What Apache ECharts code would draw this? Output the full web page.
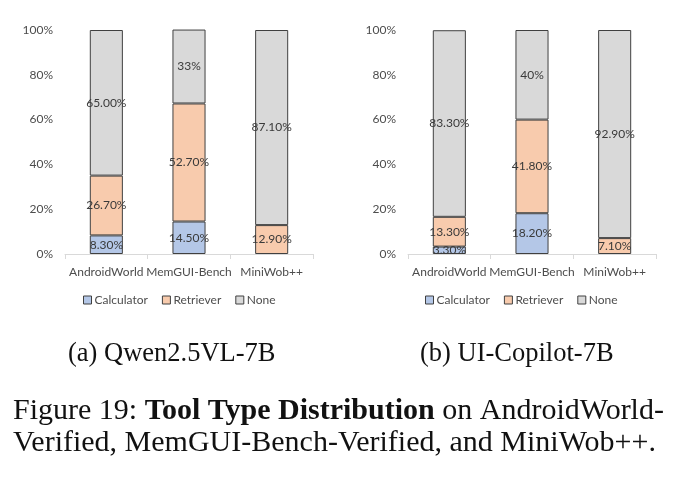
<!DOCTYPE html>
<html>
<head>
<meta charset="utf-8">
<script src="https://cdn.jsdelivr.net/npm/echarts@6/dist/echarts.min.js"></script>
<style>
	html, body { margin: 0; padding: 0; background: #fff; }
	#chart { width: 692px; height: 481px; }
</style>
</head>
<body>
<div id="chart"></div>
<script>
// data
var categories = ["AndroidWorld", "MemGUI-Bench", "MiniWob++"];
var seriesNames = ["Calculator", "Retriever", "None"];

// (a) Qwen2.5VL-7B
var qwenCalculator = [8.3, 14.5, 0];
var qwenRetriever = [26.7, 52.7, 12.9];
var qwenNone = [65.0, 33.0, 87.1];
var qwenCalculatorLabels = ["8.30%", "14.50%", ""];
var qwenRetrieverLabels = ["26.70%", "52.70%", "12.90%"];
var qwenNoneLabels = ["65.00%", "33%", "87.10%"];

// (b) UI-Copilot-7B
var copilotCalculator = [3.3, 18.2, 0];
var copilotRetriever = [13.3, 41.8, 7.1];
var copilotNone = [83.3, 40.0, 92.9];
var copilotCalculatorLabels = ["3.30%", "18.20%", ""];
var copilotRetrieverLabels = ["13.30%", "41.80%", "7.10%"];
var copilotNoneLabels = ["83.30%", "40%", "92.90%"];

var yTicks = [0, 20, 40, 60, 80, 100];

var colors = ["#b4c7e7", "#f8cbad", "#d9d9d9"];
var labelFont = "Lato";
var textGray = "#4d4d4d";

var chart = echarts.init(document.getElementById("chart"), null, { renderer: "canvas" });

function makeSeries(name, idx, values, labels, axisIdx) {
	return {
		name: name,
		type: "bar",
		stack: "s" + axisIdx,
		xAxisIndex: axisIdx,
		yAxisIndex: axisIdx,
		barWidth: "40%",
		// zero segments are left out so no border line shows
		data: values.map(function (v) { return v === 0 ? null : v; }),
		itemStyle: {
			color: colors[idx],
			borderColor: "#404040",
			borderWidth: 1
		},
		label: {
			show: true,
			position: "inside",
			color: "#3a3a3a",
			fontSize: 12,
			fontFamily: labelFont,
			formatter: function (p) { return labels[p.dataIndex]; }
		},
		animation: false
	};
}

function xAxisFor(i) {
	return {
		type: "category",
		gridIndex: i,
		data: categories,
		axisLine: { lineStyle: { color: "#d9d9d9" } },
		axisTick: { show: true, length: 5, lineStyle: { color: "#d9d9d9" } },
		axisLabel: { interval: 0, color: textGray, fontSize: 12, fontFamily: labelFont, margin: 12 }
	};
}

function yAxisFor(i) {
	return {
		type: "value",
		gridIndex: i,
		min: yTicks[0],
		max: yTicks[yTicks.length - 1],
		interval: yTicks[1] - yTicks[0],
		axisLine: { show: false },
		axisTick: { show: false },
		splitLine: { show: false },
		axisLabel: { color: textGray, fontSize: 12, fontFamily: labelFont, margin: 12, formatter: "{value}%" }
	};
}

var legendStyle = {
	icon: "rect",
	itemWidth: 8,
	itemHeight: 8,
	itemGap: 14,
	itemStyle: { borderColor: "#404040", borderWidth: 1 },
	textStyle: { color: textGray, fontSize: 12, fontFamily: labelFont, padding: [0, 0, 0, -2] },
	data: seriesNames
};

var serif = "Liberation Serif";

var option = {
	backgroundColor: "#fff",
	animation: false,
	grid: [
		{ left: 65, top: 30, width: 248, height: 224 },
		{ left: 408, top: 30, width: 248, height: 224 }
	],
	xAxis: [xAxisFor(0), xAxisFor(1)],
	yAxis: [yAxisFor(0), yAxisFor(1)],
	legend: [
		Object.assign({ left: 78, top: 289 }, legendStyle),
		Object.assign({ left: 420, top: 289 }, legendStyle)
	],
	title: [
		{
			text: "(a) Qwen2.5VL-7B",
			left: 63, top: 336,
			textStyle: { fontFamily: serif, fontWeight: "normal", fontSize: 26.5, color: "#111" }
		},
		{
			text: "(b) UI-Copilot-7B",
			left: 415, top: 336,
			textStyle: { fontFamily: serif, fontWeight: "normal", fontSize: 26.5, color: "#111" }
		},
		{
			text: "Figure 19: {b|Tool Type Distribution} on AndroidWorld-\nVerified, MemGUI-Bench-Verified, and MiniWob++.",
			left: 8, top: 390,
			textStyle: {
				fontFamily: serif, fontWeight: "normal", fontSize: 30, color: "#111", lineHeight: 32,
				rich: {
					b: { fontFamily: serif, fontWeight: "bold", fontSize: 30, color: "#111", lineHeight: 32 }
				}
			}
		}
	],
	series: [
		makeSeries(seriesNames[0], 0, qwenCalculator, qwenCalculatorLabels, 0),
		makeSeries(seriesNames[1], 1, qwenRetriever, qwenRetrieverLabels, 0),
		makeSeries(seriesNames[2], 2, qwenNone, qwenNoneLabels, 0),
		makeSeries(seriesNames[0], 0, copilotCalculator, copilotCalculatorLabels, 1),
		makeSeries(seriesNames[1], 1, copilotRetriever, copilotRetrieverLabels, 1),
		makeSeries(seriesNames[2], 2, copilotNone, copilotNoneLabels, 1)
	]
};
chart.setOption(option);
</script>
</body>
</html>
